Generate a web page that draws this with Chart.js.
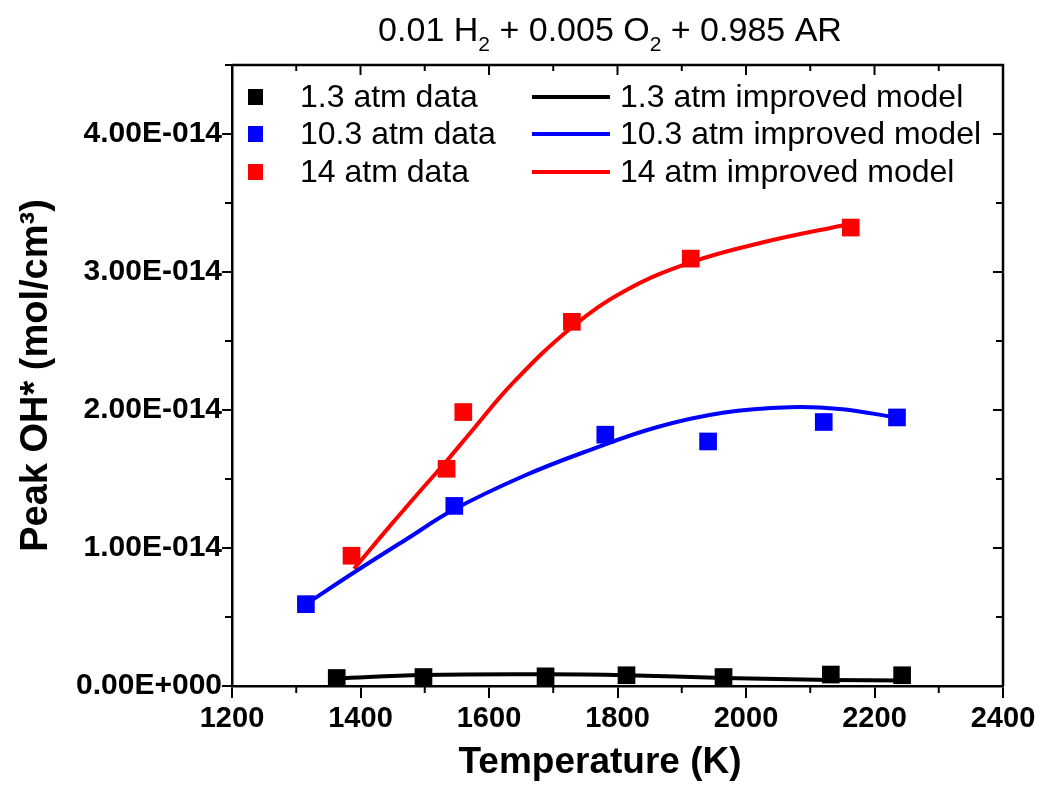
<!DOCTYPE html>
<html>
<head>
<meta charset="utf-8">
<script src="https://cdn.jsdelivr.net/npm/chart.js@4.4.1/dist/chart.umd.min.js"></script>
<style>
  html, body { margin: 0; padding: 0; background: #fff; }
</style>
</head>
<body>
<canvas id="chart" width="1042" height="786"></canvas>
<script>
// peak OH* values are in units of 1E-14 mol/cm3
const temp13 = [1363, 1498, 1688, 1814, 1965, 2132, 2243];
const oh13 = [0.058, 0.065, 0.070, 0.078, 0.065, 0.083, 0.078];
const temp103 = [1315, 1546, 1781, 1941, 2121, 2235];
const oh103 = [0.593, 1.305, 1.821, 1.772, 1.913, 1.946];
const temp14 = [1386, 1534, 1560, 1729, 1914, 2163];
const oh14 = [0.944, 1.574, 1.985, 2.639, 3.097, 3.322];

// improved model curves
const modelT13 = [1363, 1498, 1688, 1814, 1965, 2132, 2243];
const model13 = [0.055, 0.080, 0.085, 0.078, 0.058, 0.044, 0.039];
const modelT103 = [1315, 1394, 1472, 1546, 1653, 1757, 1861, 1964, 2068, 2146, 2235];
const model103 = [0.593, 0.835, 1.065, 1.280, 1.520, 1.710, 1.875, 1.980, 2.020, 2.007, 1.945];
const modelT14 = [1390, 1446, 1498, 1534, 1570, 1638, 1729, 1814, 1914, 2022, 2163];
const model14 = [0.85, 1.16, 1.44, 1.63, 1.83, 2.20, 2.60, 2.87, 3.07, 3.21, 3.35];

const xTicks = [1200, 1400, 1600, 1800, 2000, 2200, 2400];
const xTickLabels = ['1200', '1400', '1600', '1800', '2000', '2200', '2400'];
const yTicks = [0, 1, 2, 3, 4];
const yTickLabels = ['0.00E+000', '1.00E-014', '2.00E-014', '3.00E-014', '4.00E-014'];

const seriesNames = ['1.3 atm', '10.3 atm', '14 atm'];
const colors = ['#000000', '#0000ff', '#ff0000'];
const xTitle = 'Temperature (K)';

const FONT = '"Liberation Sans", Arial, sans-serif';

const pts = (xs, ys) => xs.map((x, i) => ({ x: x, y: ys[i] }));

const dataSets = [[temp13, oh13], [temp103, oh103], [temp14, oh14]];
const modelSets = [[modelT13, model13], [modelT103, model103], [modelT14, model14]];

const datasets = [];
seriesNames.forEach((name, i) => {
    datasets.push({
        label: name + ' data',
        data: pts(dataSets[i][0], dataSets[i][1]),
        showLine: false,
        pointStyle: 'rect',
        pointRadius: 12.5,
        pointHoverRadius: 12.5,
        pointBorderWidth: 0,
        backgroundColor: colors[i],
        borderColor: colors[i],
        order: 0
    });
});
seriesNames.forEach((name, i) => {
    datasets.push({
        label: name + ' improved model',
        data: pts(modelSets[i][0], modelSets[i][1]),
        showLine: true,
        pointRadius: 0,
        borderWidth: 4,
        borderColor: colors[i],
        backgroundColor: colors[i],
        tension: 0.4,
        order: 1
    });
});

function tick(ctx, x1, y1, x2, y2) {
    ctx.beginPath();
    ctx.moveTo(x1, y1);
    ctx.lineTo(x2, y2);
    ctx.stroke();
}

const framePlugin = {
    id: 'frame',
    afterDraw(chart) {
        const { ctx, chartArea: a } = chart;
        const xs = chart.scales.x, ys = chart.scales.y;
        ctx.save();
        ctx.strokeStyle = '#000';
        ctx.lineWidth = 2.5;
        ctx.beginPath();
        ctx.moveTo(a.left, a.top);
        ctx.lineTo(a.right, a.top);
        ctx.lineTo(a.right, a.bottom);
        ctx.stroke();

        ctx.lineWidth = 2;
        xTicks.forEach((v, i) => {
            const px = xs.getPixelForValue(v);
            tick(ctx, px, a.top, px, a.top + 10);
            if (i < xTicks.length - 1) {
                const m = xs.getPixelForValue((v + xTicks[i + 1]) / 2);
                tick(ctx, m, a.top, m, a.top + 6);
                tick(ctx, m, a.bottom, m, a.bottom + 7);
            }
        });
        yTicks.forEach(v => {
            const py = ys.getPixelForValue(v);
            tick(ctx, a.right, py, a.right - 10, py);
            const m = ys.getPixelForValue(v + 0.5);
            tick(ctx, a.right, m, a.right - 7, m);
            tick(ctx, a.left, m, a.left - 7, m);
        });

        ctx.fillStyle = '#000';

        // x axis title
        ctx.font = 'bold 37px ' + FONT;
        ctx.textAlign = 'center';
        ctx.textBaseline = 'middle';
        ctx.fillText(xTitle, 600, 763);

        // title with subscripts
        const parts = [['0.01 H', 0], ['2', 1], [' + 0.005 O', 0], ['2', 1], [' + 0.985 AR', 0]];
        const big = '34px ' + FONT, small = '21px ' + FONT;
        let total = 0;
        parts.forEach(p => { ctx.font = p[1] ? small : big; total += ctx.measureText(p[0]).width; });
        let tx = 610 - total / 2;
        ctx.textBaseline = 'alphabetic';
        ctx.textAlign = 'left';
        parts.forEach(p => {
            ctx.font = p[1] ? small : big;
            ctx.fillText(p[0], tx, p[1] ? 51 : 41);
            tx += ctx.measureText(p[0]).width;
        });

        // legend, two columns
        ctx.font = '32px ' + FONT;
        ctx.textBaseline = 'middle';
        const rows = [97, 134, 172];
        rows.forEach((ry, i) => {
            const d = chart.data.datasets[i];
            const m = chart.data.datasets[i + 3];
            ctx.fillStyle = d.backgroundColor;
            ctx.fillRect(248, ry - 8, 15, 16);
            ctx.fillStyle = '#000';
            ctx.fillText(d.label, 300, ry + 1);
            ctx.strokeStyle = m.borderColor;
            ctx.lineWidth = 4;
            tick(ctx, 532, ry, 610, ry);
            ctx.fillText(m.label, 620, ry + 1);
        });
        ctx.restore();
    }
};

new Chart(document.getElementById('chart'), {
    type: 'scatter',
    data: { datasets: datasets },
    options: {
        responsive: false,
        animation: false,
        layout: { padding: { top: 65, right: 39, left: 0, bottom: 0 } },
        plugins: {
            legend: { display: false },
            title: { display: false },
            tooltip: { enabled: false }
        },
        scales: {
            x: {
                type: 'linear',
                min: 1200,
                max: 2400,
                afterFit(scale) { scale.height = 100; },
                afterBuildTicks(scale) { scale.ticks = xTicks.map(v => ({ value: v })); },
                border: { display: true, color: '#000', width: 2.5 },
                grid: { drawOnChartArea: false, drawTicks: true, tickLength: 12, color: '#000', lineWidth: 2 },
                ticks: {
                    color: '#000',
                    padding: 4,
                    maxRotation: 0,
                    font: { family: FONT, size: 29, weight: 'bold' },
                    callback: (v, i) => xTickLabels[i]
                },
                title: { display: false }
            },
            y: {
                type: 'linear',
                min: 0,
                max: 4.5,
                afterFit(scale) { scale.width = 232; },
                afterBuildTicks(scale) { scale.ticks = yTicks.map(v => ({ value: v })); },
                border: { display: true, color: '#000', width: 2.5 },
                grid: { drawOnChartArea: false, drawTicks: true, tickLength: 10, color: '#000', lineWidth: 2 },
                ticks: {
                    color: '#000',
                    padding: 0,
                    font: { family: FONT, size: 30, weight: 'bold' },
                    callback: (v, i) => yTickLabels[i]
                },
                title: {
                    display: true,
                    text: 'Peak OH* (mol/cm³)',
                    color: '#000',
                    padding: { top: 14, bottom: 0 },
                    font: { family: FONT, size: 38, weight: 'bold' }
                }
            }
        }
    },
    plugins: [framePlugin]
});
</script>
</body>
</html>
